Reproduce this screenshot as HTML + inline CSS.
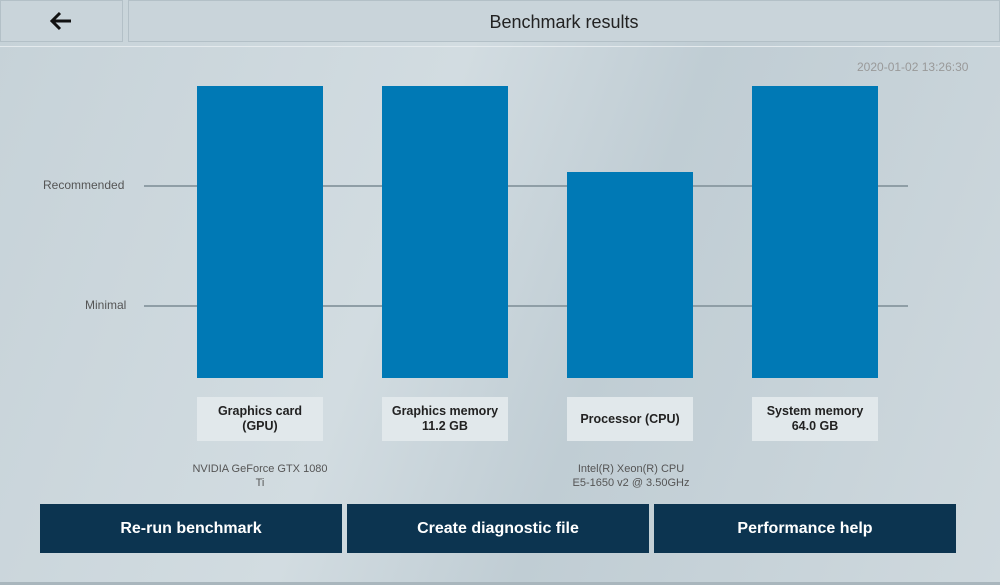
<!DOCTYPE html>
<html><head><style>
body{margin:0;width:1000px;height:585px;overflow:hidden;font-family:"Liberation Sans",sans-serif;background:linear-gradient(110deg,#c6d2d8 0%,#d2dce1 40%,#c0cdd4 60%,#cfd9de 100%);position:relative}
.a{position:absolute}
.hb{background:#c9d4da;border:1px solid #b3c0c7;box-sizing:border-box}
.bar{background:#0079b5;width:126px}
.lab{background:#e1e8eb;width:126px;top:397px;height:44px;display:flex;align-items:center;justify-content:center;text-align:center;font-weight:bold;font-size:12.5px;color:#222;line-height:15px}
.line{height:2px;background:#8f9ea6;left:144px;width:764px}
.btn{background:#0c3450;color:#fff;font-weight:bold;font-size:16px;top:504px;height:49px;width:302px;display:flex;align-items:center;justify-content:center}
.sub{font-size:11px;color:#555;text-align:center;width:170px;line-height:14px}
</style></head><body>
<div class="a hb" style="left:0;top:0;width:123px;height:42px"><svg width="123" height="42" style="position:absolute;left:-1px;top:-1px"><path d="M52 21H71M60 13L52 21L60 29" stroke="#111" stroke-width="3" fill="none"/></svg></div>
<div class="a hb" style="left:128px;top:0;width:872px;height:42px;font-size:18px;text-align:center;line-height:42px;color:#222">Benchmark results</div>
<div class="a" style="left:0;top:46px;width:1000px;height:1px;background:#e4eaed"></div>
<div class="a" style="left:857px;top:60px;font-size:12px;color:#999">2020-01-02 13:26:30</div>
<div class="a line" style="top:185px"></div>
<div class="a line" style="top:305px"></div>
<div class="a" style="left:43px;top:178px;font-size:12px;color:#555">Recommended</div>
<div class="a" style="left:85px;top:298px;font-size:12px;color:#555">Minimal</div>
<div class="a bar" style="left:197px;top:86px;height:292px"></div>
<div class="a bar" style="left:382px;top:86px;height:292px"></div>
<div class="a bar" style="left:567px;top:172px;height:206px"></div>
<div class="a bar" style="left:752px;top:86px;height:292px"></div>
<div class="a lab" style="left:197px">Graphics card<br>(GPU)</div>
<div class="a lab" style="left:382px">Graphics memory<br>11.2 GB</div>
<div class="a lab" style="left:567px">Processor (CPU)</div>
<div class="a lab" style="left:752px">System memory<br>64.0 GB</div>
<div class="a sub" style="left:175px;top:462px">NVIDIA GeForce GTX 1080<br>Ti</div>
<div class="a sub" style="left:546px;top:462px">Intel(R) Xeon(R) CPU<br>E5-1650 v2 @ 3.50GHz</div>
<div class="a btn" style="left:40px">Re-run benchmark</div>
<div class="a btn" style="left:347px">Create diagnostic file</div>
<div class="a btn" style="left:654px">Performance help</div>
<div class="a" style="left:0;top:582px;width:1000px;height:3px;background:#a9b6bd"></div>
</body></html>
